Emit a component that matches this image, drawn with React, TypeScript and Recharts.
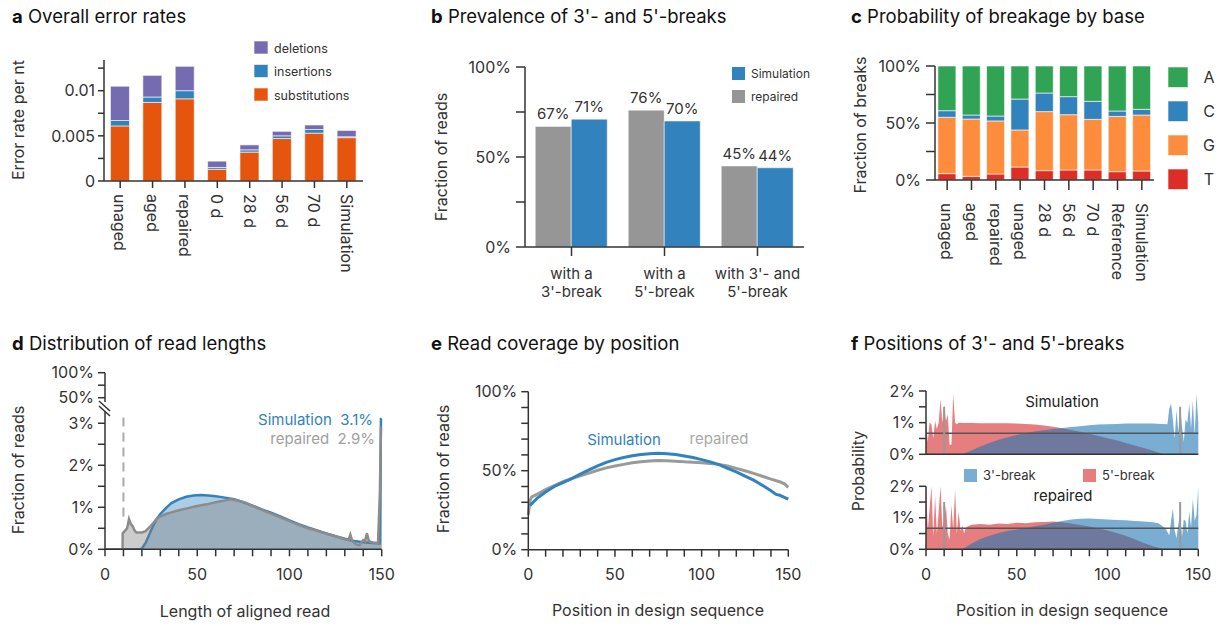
import { BarChart, Bar, ComposedChart, Area, Line, XAxis, YAxis, ReferenceLine } from 'recharts'

const FONT = 'Inter, "Noto Sans", sans-serif'
const INK = '#333'
const BLUE = '#3182bd'
const GRAY = '#969696'
const AXIS = { stroke: INK, strokeWidth: 1.5 }
const TICK = { fill: INK, fontSize: 16, fontFamily: FONT }

// a: overall error rates
const ERR_CATS = ['unaged', 'aged', 'repaired', '0 d', '28 d', '56 d', '70 d', 'Simulation']
const ERR_SUBS = [0.0061, 0.0087, 0.0091, 0.0013, 0.0032, 0.0047, 0.0053, 0.0048]
const ERR_INS = [0.0006, 0.0006, 0.0009, 0.0002, 0.00025, 0.0003, 0.0004, 0.0001]
const ERR_DEL = [0.0038, 0.0024, 0.0027, 0.0007, 0.00055, 0.0005, 0.0005, 0.0007]
const ERR_TICKS = [0, 0.0025, 0.005, 0.0075, 0.01, 0.0125]
const ERR_TICK_LABELS = ['0', '', '0.005', '', '0.01', '']

// b: prevalence of breaks
const BRK_CATS = ["with a\n3'-break", "with a\n5'-break", "with 3'- and\n5'-break"]
const BRK_REPAIRED = [67, 76, 45]
const BRK_SIM = [71, 70, 44]

// c: breakage by base (percent, stacked T, G, C, A)
const BASE_CATS = ['unaged', 'aged', 'repaired', 'unaged', '28 d', '56 d', '70 d', 'Reference', 'Simulation']
const BASE_T = [5.6, 3.2, 5.3, 11.4, 8.2, 8.8, 8.8, 7.3, 7.9]
const BASE_G = [49.4, 50.3, 46.5, 32.5, 51.8, 48.5, 44.4, 48.5, 49.1]
const BASE_C = [5.8, 3.5, 4.3, 27.1, 16.3, 15.8, 15.8, 4.7, 5.0]
const BASE_A = [39.2, 43.0, 43.9, 29.0, 23.7, 26.9, 31.0, 39.5, 38.0]
const PCT_TICKS = [0, 25, 50, 75, 100]

// d: read length distribution (percent)
const LEN_SIM_X = [0, 19, 20, 22, 24, 26, 28, 30, 33, 36, 40, 44, 48, 52, 56, 60, 65, 70, 75, 80, 85, 90, 95, 100, 105, 110, 115, 120, 125, 130, 135, 140, 145, 149, 149.6, 150]
const LEN_SIM_Y = [0, 0, 0.02, 0.15, 0.35, 0.55, 0.72, 0.84, 0.98, 1.1, 1.19, 1.25, 1.28, 1.29, 1.28, 1.26, 1.23, 1.19, 1.12, 1.04, 0.95, 0.87, 0.78, 0.69, 0.6, 0.52, 0.45, 0.38, 0.31, 0.25, 0.2, 0.17, 0.15, 0.14, 3.1, 3.1]
const LEN_REP_X = [0, 9.5, 9.6, 11, 12, 13, 14, 15, 16, 17, 18, 20, 22, 24, 26, 28, 30, 33, 36, 40, 45, 50, 55, 60, 65, 68, 72, 76, 80, 85, 90, 95, 100, 105, 110, 115, 120, 125, 130, 132, 133, 134, 136, 138, 140, 141, 142, 143, 145, 148, 149, 149.6, 150]
const LEN_REP_Y = [0, 0, 0.38, 0.45, 0.5, 0.72, 0.6, 0.55, 0.45, 0.4, 0.4, 0.4, 0.43, 0.52, 0.62, 0.72, 0.78, 0.84, 0.88, 0.93, 0.98, 1.03, 1.07, 1.12, 1.16, 1.19, 1.16, 1.11, 1.03, 0.94, 0.85, 0.76, 0.67, 0.58, 0.5, 0.44, 0.37, 0.31, 0.24, 0.22, 0.35, 0.2, 0.12, 0.1, 0.22, 0.2, 0.38, 0.2, 0.16, 0.15, 1.33, 2.9, 2.9]
const LEN_TICKS = [0, 0.5, 1, 1.5, 2, 2.5, 3]

// e: coverage by position (percent)
const COV_SIM_X = [1, 5, 10, 15, 20, 25, 30, 35, 40, 45, 50, 55, 60, 65, 70, 75, 80, 85, 90, 95, 100, 105, 110, 115, 120, 125, 130, 135, 140, 143, 145, 148, 150]
const COV_SIM_Y = [28, 32.5, 36.5, 40, 42.5, 45, 47.8, 50.5, 53, 55.3, 57, 58.4, 59.5, 60.2, 60.8, 61, 60.8, 60.3, 59.3, 58.3, 57, 55.6, 53.8, 51.5, 49.2, 46.6, 44, 40.8, 37.3, 35, 34.5, 33, 32]
const COV_REP_X = [0, 1, 2, 5, 10, 15, 20, 25, 30, 35, 40, 45, 50, 55, 60, 65, 70, 75, 80, 85, 90, 95, 100, 105, 110, 115, 120, 125, 130, 135, 140, 145, 148, 150]
const COV_REP_Y = [22, 31, 33.5, 35, 38, 40.5, 43, 45, 46.8, 48.5, 50.3, 51.8, 53, 54, 55, 55.6, 56.2, 56.4, 56.3, 56, 55.6, 55.4, 55.1, 54.6, 54, 53, 51.5, 50, 48.3, 46.5, 44.7, 43, 41.5, 39.5]
const COV_TICKS = [0, 10, 20, 30, 40, 50, 60, 70, 80, 90, 100]

// f: break positions (percent)
const POS_SIM5_X = [0, 1, 2, 3, 4, 5, 6, 7, 8, 9, 10, 11, 12, 13, 14, 15, 16, 17, 18, 20, 25, 30, 35, 40, 45, 50, 55, 60, 65, 70, 75, 80, 85, 90, 95, 100, 105, 110, 115, 120, 125, 130, 131, 150]
const POS_SIM5_Y = [1.0, 0.4, 1.0, 0.95, 0.5, 1.05, 0.8, 1.0, 1.75, 1.0, 1.55, 1.05, 1.25, 0.3, 0.3, 1.9, 1.0, 0.95, 1.0, 0.99, 0.99, 0.98, 0.98, 0.98, 0.98, 0.97, 0.96, 0.94, 0.91, 0.87, 0.82, 0.77, 0.71, 0.65, 0.58, 0.51, 0.44, 0.36, 0.28, 0.2, 0.11, 0.02, 0, 0]
const POS_SIM3_X = [0, 20, 25, 30, 35, 40, 45, 50, 55, 60, 65, 70, 75, 80, 85, 90, 95, 100, 105, 110, 115, 120, 125, 130, 133, 134, 135, 136, 137, 138, 139, 140, 141, 142, 143, 144, 145, 146, 147, 148, 149, 150]
const POS_SIM3_Y = [0, 0, 0.12, 0.25, 0.36, 0.46, 0.54, 0.61, 0.67, 0.72, 0.76, 0.8, 0.83, 0.86, 0.89, 0.92, 0.94, 0.95, 0.96, 0.97, 0.97, 0.97, 0.97, 0.96, 0.95, 1.45, 1.6, 1.1, 0.5, 1.4, 0.7, 1.5, 0.9, 0.4, 1.1, 1.0, 1.6, 0.8, 1.7, 0.6, 1.9, 1.0]
const POS_REP5_X = [0, 1, 2, 3, 4, 5, 6, 7, 8, 9, 10, 11, 12, 13, 14, 15, 16, 17, 18, 19, 20, 21, 22, 25, 30, 35, 40, 45, 50, 55, 60, 65, 70, 75, 80, 85, 90, 95, 100, 105, 110, 115, 120, 125, 130, 131, 150]
const POS_REP5_Y = [2.0, 0.6, 1.3, 2.0, 0.4, 1.7, 0.5, 1.2, 2.0, 0.7, 0.9, 1.4, 0.5, 0.3, 1.4, 0.6, 1.9, 0.5, 1.2, 0.6, 0.75, 0.5, 0.7, 0.78, 0.8, 0.78, 0.82, 0.8, 0.84, 0.83, 0.86, 0.87, 0.88, 0.86, 0.82, 0.77, 0.72, 0.66, 0.6, 0.52, 0.43, 0.32, 0.2, 0.1, 0.02, 0, 0]
const POS_REP3_X = [0, 20, 25, 30, 35, 40, 45, 50, 55, 60, 65, 70, 75, 80, 85, 90, 95, 100, 105, 110, 115, 120, 125, 128, 130, 132, 133, 134, 135, 136, 137, 138, 139, 140, 141, 142, 143, 144, 145, 146, 147, 148, 149, 150]
const POS_REP3_Y = [0, 0, 0.18, 0.33, 0.43, 0.52, 0.58, 0.63, 0.68, 0.73, 0.78, 0.84, 0.9, 0.95, 0.97, 0.98, 0.96, 0.95, 0.93, 0.92, 0.9, 0.88, 0.86, 0.83, 0.75, 0.65, 0.55, 0.45, 0.9, 1.3, 0.6, 0.35, 0.8, 1.1, 0.4, 0.95, 0.9, 0.5, 1.2, 0.7, 1.6, 0.9, 1.1, 2.0]
const PROB_TICKS = [0, 0.5, 1, 1.5, 2]
const UNIFORM = 100 / 150

const POS_X_TICKS = [0, 10, 20, 30, 40, 50, 60, 70, 80, 90, 100, 110, 120, 130, 140, 150]
const posLabel = (v: number) => (v % 50 === 0 ? String(v) : '')
const pctLabel = (every: number) => (v: number) => (v % every === 0 ? `${v}%` : '')

// union of x positions, one column per series
function merge(series: Record<string, [number[], number[]]>) {
  const xs = Array.from(new Set(Object.values(series).flatMap(s => s[0]))).sort((a, b) => a - b)
  return xs.map(x => {
    const row: any = { x }
    for (const [k, [sx, sy]] of Object.entries(series)) {
      const i = sx.indexOf(x)
      if (i >= 0) row[k] = sy[i]
    }
    return row
  })
}

function RotTick(props: any) {
  const { x, y, payload } = props
  return (
    <text transform={`translate(${x},${y}) rotate(90)`} textAnchor="start" dominantBaseline="central" fontSize={16} fill={INK} fontFamily={FONT}>
      {payload.value}
    </text>
  )
}

// two separate lines, one <text> each
function TwoLineTick(props: any) {
  const { x, y, payload } = props
  const lines = String(payload.value).split('\n')
  return (
    <g>
      {lines.map((l, i) => (
        <text key={i} x={x} y={y + 11.5 + i * 18} textAnchor="middle" fontSize={15} fill={INK} fontFamily={FONT}>{l}</text>
      ))}
    </g>
  )
}

const pos = (left: number, top: number) => ({ position: 'absolute' as const, left, top })

function PanelA() {
  const data = ERR_CATS.map((name, i) => ({ name, subs: ERR_SUBS[i], ins: ERR_INS[i], del: ERR_DEL[i] }))
  return (
    <div style={pos(0, 0)}>
      <BarChart width={380} height={300} data={data} margin={{ top: 60, right: 17, bottom: 0, left: 0 }} barCategoryGap="20%">
        <XAxis dataKey="name" interval={0} height={119} tick={<RotTick />} tickSize={7} tickMargin={6} axisLine={AXIS} tickLine={AXIS} />
        <YAxis width={104} domain={[0, 0.0134]} ticks={ERR_TICKS} interval={0} tickFormatter={(v: number, i: number) => ERR_TICK_LABELS[i]} tick={TICK} tickSize={6} tickMargin={3} axisLine={AXIS} tickLine={AXIS} allowDataOverflow />
        <Bar dataKey="subs" stackId="e" fill="#e6550d" stroke="rgba(255,255,255,0.6)" isAnimationActive={false} />
        <Bar dataKey="ins" stackId="e" fill={BLUE} stroke="rgba(255,255,255,0.6)" isAnimationActive={false} />
        <Bar dataKey="del" stackId="e" fill="#756bb1" stroke="rgba(255,255,255,0.6)" isAnimationActive={false} />
      </BarChart>
    </div>
  )
}

function PanelB() {
  const data = BRK_CATS.map((name, i) => ({ name, rep: BRK_REPAIRED[i], sim: BRK_SIM[i] }))
  const lbl = { position: 'top' as const, offset: 7, fill: INK, fontSize: 15, fontFamily: FONT, formatter: (v: number) => `${v}%` }
  return (
    <div style={pos(410, 0)}>
      <BarChart width={410} height={320} data={data} margin={{ top: 67, right: 16, bottom: 0, left: 0 }} barCategoryGap="11%" barGap={0}>
        <XAxis dataKey="name" interval={0} height={73} tick={<TwoLineTick />} tickSize={9} tickMargin={11} axisLine={AXIS} tickLine={AXIS} />
        <YAxis width={115} domain={[0, 100]} ticks={PCT_TICKS} interval={0} tickFormatter={pctLabel(50)} tick={TICK} tickSize={9} tickMargin={5} axisLine={AXIS} tickLine={AXIS} />
        <Bar dataKey="rep" fill={GRAY} stroke="rgba(255,255,255,0.5)" label={lbl} isAnimationActive={false} />
        <Bar dataKey="sim" fill={BLUE} stroke="rgba(255,255,255,0.5)" label={lbl} isAnimationActive={false} />
      </BarChart>
    </div>
  )
}

function PanelC() {
  const data = BASE_CATS.map((name, i) => ({ name, T: BASE_T[i], G: BASE_G[i], C: BASE_C[i], A: BASE_A[i] }))
  const st = 'rgba(255,255,255,0.6)'
  return (
    <div style={pos(820, 0)}>
      <BarChart width={340} height={320} data={data} margin={{ top: 66, right: 6, bottom: 0, left: 0 }} barCategoryGap="12%">
        <XAxis dataKey="name" interval={0} height={140} tick={<RotTick />} tickSize={10} tickMargin={13} axisLine={AXIS} tickLine={AXIS} />
        <YAxis width={115} domain={[0, 100]} ticks={PCT_TICKS} interval={0} tickFormatter={pctLabel(50)} tick={TICK} tickSize={9} tickMargin={5} axisLine={AXIS} tickLine={AXIS} />
        <Bar dataKey="T" stackId="b" fill="#de2d26" stroke={st} isAnimationActive={false} />
        <Bar dataKey="G" stackId="b" fill="#fd8d3c" stroke={st} isAnimationActive={false} />
        <Bar dataKey="C" stackId="b" fill={BLUE} stroke={st} isAnimationActive={false} />
        <Bar dataKey="A" stackId="b" fill="#31a354" stroke={st} isAnimationActive={false} />
      </BarChart>
    </div>
  )
}

function PanelD() {
  const data = merge({ sim: [LEN_SIM_X, LEN_SIM_Y], rep: [LEN_REP_X, LEN_REP_Y] })
  return (
    <>
      {/* upper part of the broken axis */}
      <div style={pos(0, 360)}>
        <ComposedChart width={400} height={62} data={data} margin={{ top: 12.7, right: 18.3, bottom: 20, left: 0 }}>
          <XAxis dataKey="x" type="number" domain={[0, 150]} hide />
          <YAxis width={105} domain={[41.4, 100]} ticks={[50, 75, 100]} interval={0} tickFormatter={pctLabel(50)} tick={TICK} tickSize={7} tickMargin={4} axisLine={AXIS} tickLine={AXIS} allowDataOverflow />
        </ComposedChart>
      </div>
      <div style={pos(0, 400)}>
        <ComposedChart width={400} height={226} data={data} margin={{ top: 11.5, right: 18.3, bottom: 0, left: 0 }}>
          <XAxis dataKey="x" type="number" domain={[0, 150]} ticks={POS_X_TICKS} tickFormatter={posLabel} interval={0} height={76.7} tick={TICK} tickSize={7} tickMargin={12} axisLine={AXIS} tickLine={AXIS} />
          <YAxis width={105} domain={[0, 3.28]} ticks={LEN_TICKS} interval={0} tickFormatter={(v: number) => (Number.isInteger(v) ? `${v}%` : '')} tick={TICK} tickSize={7} tickMargin={4} axisLine={AXIS} tickLine={AXIS} allowDataOverflow />
          <ReferenceLine segment={[{ x: 10, y: 0.78 }, { x: 10, y: 3.28 }]} stroke="#aaa" strokeWidth={2} strokeDasharray="9 6" />
          <Area dataKey="sim" type="linear" connectNulls fill={BLUE} fillOpacity={0.4} stroke={BLUE} strokeWidth={2.5} isAnimationActive={false} />
          <Area dataKey="rep" type="linear" connectNulls fill="#808080" fillOpacity={0.4} stroke="#8c8c8c" strokeWidth={2.5} isAnimationActive={false} />
        </ComposedChart>
      </div>
    </>
  )
}

function PanelE() {
  const data = merge({ sim: [COV_SIM_X, COV_SIM_Y], rep: [COV_REP_X, COV_REP_Y] })
  return (
    <div style={pos(410, 380)}>
      <ComposedChart width={400} height={246} data={data} margin={{ top: 11.7, right: 21.7, bottom: 0, left: 0 }}>
        <XAxis dataKey="x" type="number" domain={[0, 150]} ticks={POS_X_TICKS} tickFormatter={posLabel} interval={0} height={76.3} tick={TICK} tickSize={7} tickMargin={12} axisLine={AXIS} tickLine={AXIS} />
        <YAxis width={118.3} domain={[0, 100]} ticks={COV_TICKS} interval={0} tickFormatter={pctLabel(50)} tick={TICK} tickSize={7} tickMargin={4} axisLine={AXIS} tickLine={AXIS} />
        <Line dataKey="rep" type="linear" connectNulls stroke="#9a9a9a" strokeWidth={3} dot={false} isAnimationActive={false} />
        <Line dataKey="sim" type="linear" connectNulls stroke={BLUE} strokeWidth={3} dot={false} isAnimationActive={false} />
      </ComposedChart>
    </div>
  )
}

function BreakChart({ top, height, marginTop, xAxisHeight, labels, s3, s5 }: any) {
  const data = merge({ b3: s3, b5: s5 })
  return (
    <div style={pos(820, top)}>
      <ComposedChart width={400} height={height} data={data} margin={{ top: marginTop, right: 21.7, bottom: 0, left: 0 }}>
        <XAxis dataKey="x" type="number" domain={[0, 150]} ticks={POS_X_TICKS} tickFormatter={posLabel} interval={0} height={xAxisHeight} tick={labels ? TICK : false} tickSize={7} tickMargin={12} axisLine={AXIS} tickLine={AXIS} />
        <YAxis width={106} domain={[0, 2]} ticks={PROB_TICKS} interval={0} tickFormatter={(v: number) => (Number.isInteger(v) ? `${v}%` : '')} tick={TICK} tickSize={7} tickMargin={4} axisLine={AXIS} tickLine={AXIS} allowDataOverflow />
        <Area dataKey="b5" type="linear" connectNulls fill="#d62728" fillOpacity={0.6} stroke="none" isAnimationActive={false} />
        <Area dataKey="b3" type="linear" connectNulls fill="#1f77b4" fillOpacity={0.6} stroke="none" isAnimationActive={false} />
        <ReferenceLine y={UNIFORM} stroke="#555" strokeWidth={1.5} />
        <ReferenceLine segment={[{ x: 10, y: 0 }, { x: 10, y: 1.5 }]} stroke="#999" strokeWidth={2} />
        <ReferenceLine segment={[{ x: 140, y: 0 }, { x: 140, y: 1.5 }]} stroke="#999" strokeWidth={2} />
      </ComposedChart>
    </div>
  )
}

function Overlay() {
  const title = (x: number, y: number, k: string, t: string) => (
    <text x={x} y={y} fontSize={18.5} fill="#111">
      <tspan fontWeight={700}>{k}</tspan> {t}
    </text>
  )
  const vlabel = (x: number, y: number, t: string) => (
    <text transform={`translate(${x},${y}) rotate(-90)`} textAnchor="middle" dominantBaseline="central" fontSize={16} fill={INK}>{t}</text>
  )
  return (
    <svg width={1225} height={626} style={{ position: 'absolute', left: 0, top: 0, pointerEvents: 'none' }} fontFamily={FONT}>
      {title(12, 23, 'a', 'Overall error rates')}
      {title(431, 23, 'b', "Prevalence of 3'- and 5'-breaks")}
      {title(851, 23, 'c', 'Probability of breakage by base')}
      {title(12, 350, 'd', 'Distribution of read lengths')}
      {title(431, 350, 'e', 'Read coverage by position')}
      {title(851, 350, 'f', "Positions of 3'- and 5'-breaks")}

      {vlabel(18, 120, 'Error rate per nt')}
      {vlabel(441, 157, 'Fraction of reads')}
      {vlabel(860, 125, 'Fraction of breaks')}
      {vlabel(18, 470, 'Fraction of reads')}
      {vlabel(443, 469, 'Fraction of reads')}
      {vlabel(858, 471, 'Probability')}
      <text x={245} y={617} textAnchor="middle" fontSize={16} fill={INK}>Length of aligned read</text>
      <text x={658} y={616} textAnchor="middle" fontSize={16} fill={INK}>Position in design sequence</text>
      <text x={1062} y={616} textAnchor="middle" fontSize={16} fill={INK}>Position in design sequence</text>

      {/* a legend */}
      {[['#756bb1', 'deletions'], [BLUE, 'insertions'], ['#e6550d', 'substitutions']].map(([c, t], i) => (
        <g key={t}>
          <rect x={254} y={41 + i * 23.5} width={14} height={13} fill={c} stroke="rgba(255,255,255,0.6)" />
          <text x={274} y={52.5 + i * 23.5} fontSize={12.5} fill={INK}>{t}</text>
        </g>
      ))}

      {/* b legend */}
      {[[BLUE, 'Simulation'], [GRAY, 'repaired']].map(([c, t], i) => (
        <g key={t}>
          <rect x={732} y={67 + i * 23} width={13} height={13} fill={c} />
          <text x={751} y={78 + i * 23} fontSize={12} fill={INK}>{t}</text>
        </g>
      ))}

      {/* c legend */}
      {[['#31a354', 'A'], [BLUE, 'C'], ['#fd8d3c', 'G'], ['#de2d26', 'T']].map(([c, t], i) => (
        <g key={t}>
          <rect x={1168} y={67 + i * 34} width={20} height={20.5} fill={c} stroke="rgba(255,255,255,0.6)" />
          <text x={1209} y={83 + i * 34} textAnchor="middle" fontSize={16} fill={INK}>{t}</text>
        </g>
      ))}

      {/* d annotations + axis break */}
      <text x={373} y={424.5} textAnchor="end" fontSize={15} fill={BLUE} style={{ whiteSpace: 'pre' }}>Simulation  3.1%</text>
      <text x={375} y={443.5} textAnchor="end" fontSize={15} fill="#a0a0a0" style={{ whiteSpace: 'pre' }}>repaired  2.9%</text>
      <line x1={99} y1={401} x2={110} y2={411} stroke={INK} strokeWidth={1.5} />
      <line x1={99} y1={406} x2={110} y2={416} stroke={INK} strokeWidth={1.5} />

      {/* e annotations */}
      <text x={624} y={445} textAnchor="middle" fontSize={15} fill={BLUE}>Simulation</text>
      <text x={719} y={443.5} textAnchor="middle" fontSize={15} fill="#a8a8a8">repaired</text>

      {/* f annotations + legend */}
      <text x={1062} y={407} textAnchor="middle" fontSize={15} fill="#222">Simulation</text>
      <text x={1063} y={500.5} textAnchor="middle" fontSize={15} fill="#222">repaired</text>
      <rect x={964} y={469} width={13} height={13} fill="#1f77b4" fillOpacity={0.6} />
      <text x={983} y={480} fontSize={13} fill={INK}>3'-break</text>
      <rect x={1083} y={469} width={13} height={13} fill="#d62728" fillOpacity={0.6} />
      <text x={1102} y={480} fontSize={13} fill={INK}>5'-break</text>
    </svg>
  )
}

export default function App() {
  return (
    <div style={{ position: 'absolute', left: 0, top: 0, width: 1225, height: 626, background: '#fff', fontFamily: FONT, overflow: 'hidden' }}>
      <PanelA />
      <PanelB />
      <PanelC />
      <PanelD />
      <PanelE />
      <BreakChart top={380} height={90} marginTop={11} xAxisHeight={15.7} labels={false} s3={[POS_SIM3_X, POS_SIM3_Y]} s5={[POS_SIM5_X, POS_SIM5_Y]} />
      <BreakChart top={470} height={156} marginTop={16.3} xAxisHeight={76.7} labels s3={[POS_REP3_X, POS_REP3_Y]} s5={[POS_REP5_X, POS_REP5_Y]} />
      <Overlay />
    </div>
  )
}
